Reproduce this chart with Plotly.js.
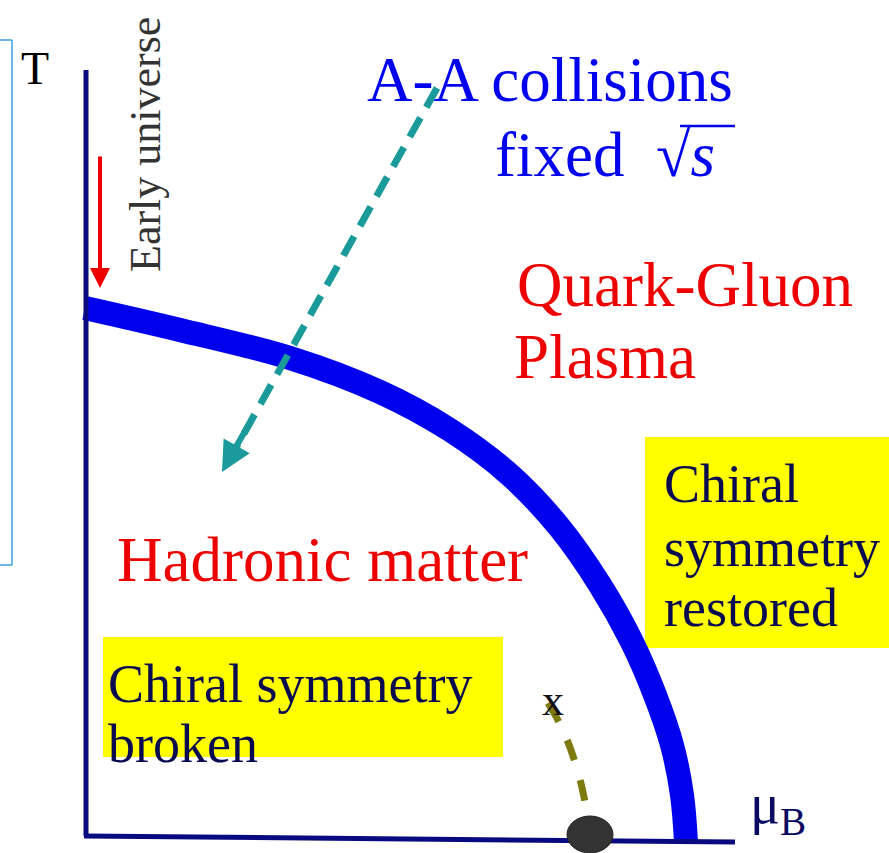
<!DOCTYPE html>
<html><head><meta charset="utf-8">
<script src="https://cdn.plot.ly/plotly-3.0.1.min.js"></script>
<style>body{margin:0}#plot{width:889px;height:853px}</style>
</head><body><div id="plot"></div>
<script>
// phase boundary (pixel-like coordinates, y down)
var boundaryX = [85, 180, 290, 380, 450, 510, 560, 600, 632, 655, 672, 682, 686];
var boundaryY = [308, 330, 358, 392, 430, 475, 528, 585, 642, 695, 745, 795, 842];
// critical line
var critX = [548, 562, 575, 584, 589];
var critY = [703, 728, 762, 797, 832];
var serif = "Liberation Serif, Times New Roman, serif";

var traces = [
  {x: boundaryX, y: boundaryY, mode: 'lines', line: {color: '#0000ee', width: 24, shape: 'spline'}, hoverinfo: 'skip'},
  {x: critX, y: critY, mode: 'lines', line: {color: '#7d7a10', width: 7, dash: 'dash', shape: 'spline'}, hoverinfo: 'skip'}
];

var shapes = [
  // bracket
  {type: 'line', x0: 0, y0: 40, x1: 12, y1: 40, line: {color: '#3aa0e0', width: 1.5}},
  {type: 'line', x0: 12, y0: 40, x1: 12, y1: 565, line: {color: '#3aa0e0', width: 1.5}},
  {type: 'line', x0: 0, y0: 565, x1: 12, y1: 565, line: {color: '#3aa0e0', width: 1.5}},
  // axes
  {type: 'line', x0: 86, y0: 70, x1: 86, y1: 836, line: {color: '#0a0a80', width: 5}},
  {type: 'line', x0: 84, y0: 836, x1: 735, y1: 842, line: {color: '#0a0a80', width: 5}},
  // yellow boxes
  {type: 'rect', x0: 645, y0: 437, x1: 889, y1: 648, fillcolor: '#ffff00', line: {width: 0}, layer: 'below'},
  {type: 'rect', x0: 103, y0: 637, x1: 503, y1: 757, fillcolor: '#ffff00', line: {width: 0}, layer: 'below'},
  // teal dashed arrow shaft
  {type: 'line', x0: 437, y0: 88, x1: 232, y1: 455, line: {color: '#1a9a9a', width: 7, dash: '22px,12px'}},
  // overline of sqrt
  {type: 'line', x0: 680, y0: 126, x1: 735, y1: 126, line: {color: '#0000ee', width: 2.5}},
  // critical point
  {type: 'circle', x0: 567, y0: 816, x1: 613, y1: 853, fillcolor: '#333333', line: {color: '#222', width: 1}}
];

var ann = [
  {x: 35, y: 68, text: 'T', font: {size: 46, family: serif, color: '#000'}},
  {x: 778, y: 808, text: 'μ<sub>B</sub>', font: {size: 56, family: serif, color: '#0a0a60'}},
  {x: 145, y: 145, text: 'Early universe', textangle: -90, font: {size: 44, family: serif, color: '#333'}},
  {x: 550, y: 80, text: 'A-A collisions', font: {size: 63, family: serif, color: '#0000ee'}},
  {x: 605, y: 155, text: 'fixed  √<i>s</i>', font: {size: 63, family: serif, color: '#0000ee'}},
  {x: 685, y: 285, text: 'Quark-Gluon', font: {size: 63, family: serif, color: '#ee0000'}},
  {x: 605, y: 357, text: 'Plasma', font: {size: 63, family: serif, color: '#ee0000'}},
  {x: 322, y: 560, text: 'Hadronic matter', font: {size: 63, family: serif, color: '#ee0000'}},
  {x: 662, y: 484, text: 'Chiral', xanchor: 'left', font: {size: 54, family: serif, color: '#0a0a50'}},
  {x: 662, y: 548, text: 'symmetry', xanchor: 'left', font: {size: 54, family: serif, color: '#0a0a50'}},
  {x: 662, y: 608, text: 'restored', xanchor: 'left', font: {size: 54, family: serif, color: '#0a0a50'}},
  {x: 106, y: 684, text: 'Chiral symmetry', xanchor: 'left', font: {size: 54, family: serif, color: '#0a0a50'}},
  {x: 106, y: 744, text: 'broken', xanchor: 'left', font: {size: 54, family: serif, color: '#0a0a50'}},
  {x: 553, y: 700, text: 'x', font: {size: 44, family: serif, color: '#111'}},
  // arrows
  {x: 100, y: 288, ax: 100, ay: 155, axref: 'x', ayref: 'y', text: '', showarrow: true, arrowhead: 2, arrowsize: 1, arrowwidth: 4, arrowcolor: '#ee0000'},
  {x: 222, y: 472, ax: 245, ay: 431, axref: 'x', ayref: 'y', text: '', showarrow: true, arrowhead: 2, arrowsize: 1, arrowwidth: 6, arrowcolor: '#1a9a9a'}
];
ann.forEach(function (a) { if (!a.showarrow) a.showarrow = false; });

var layout = {
  width: 889, height: 853,
  margin: {l: 0, r: 0, t: 0, b: 0},
  paper_bgcolor: '#fff', plot_bgcolor: '#fff',
  showlegend: false,
  xaxis: {range: [0, 889], visible: false, fixedrange: true},
  yaxis: {range: [853, 0], visible: false, fixedrange: true},
  shapes: shapes,
  annotations: ann
};
Plotly.newPlot('plot', traces, layout, {displayModeBar: false, staticPlot: true});
</script>
</body></html>
